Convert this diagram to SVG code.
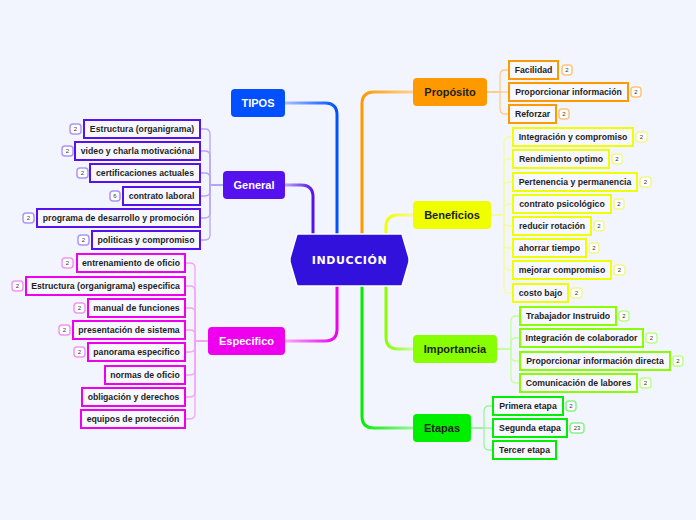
<svg xmlns="http://www.w3.org/2000/svg" width="696" height="520" viewBox="0 0 696 520">
<style>
text{font-family:"Liberation Sans",Arial,sans-serif;font-weight:bold}
.t{font-size:8.7px;fill:#1e1e1e;text-anchor:middle;dominant-baseline:central}
.m{font-size:11px;text-anchor:middle;dominant-baseline:central}
.w{fill:#ffffff}
.d{fill:#1e1e1e}
.b{fill:#ffffff;stroke-width:1.5}
.bt{font-size:6px;font-weight:normal;fill:#333;text-anchor:middle;dominant-baseline:central}
.n{fill:#f7f8fe;stroke-width:2}
.br{fill:none;stroke-width:1.3}
.mc{fill:none;stroke-width:3}
.purple .n{stroke:#5511ee}.purple .b{stroke:#ad96f7}.pb{stroke:#b7a3f7}
.mag .n{stroke:#ee00ee}.mag .b{stroke:#f396f3}.mb{stroke:#f5a3f5}
.ora .n{stroke:#ff9900}.ora .b{stroke:#ffc47a}.ob{stroke:#ffcc8a}
.yel .n{stroke:#f0ff00}.yel .b{stroke:#f2f78c}.yb{stroke:#f5f9a6}
.lim .n{stroke:#88ff00}.lim .b{stroke:#bcff8a}.lb{stroke:#c4ff9a}
.grn .n{stroke:#00ee00}.grn .b{stroke:#8af38a}.gb{stroke:#9af59a}
</style>
<defs>
<linearGradient id="gB" gradientUnits="userSpaceOnUse" x1="285" y1="0" x2="337" y2="0"><stop offset="0" stop-color="#a9c2ff"/><stop offset="1" stop-color="#0050ff"/></linearGradient>
<linearGradient id="gP" gradientUnits="userSpaceOnUse" x1="285" y1="0" x2="313" y2="0"><stop offset="0" stop-color="#b9a4f7"/><stop offset="1" stop-color="#5511ee"/></linearGradient>
<linearGradient id="gM" gradientUnits="userSpaceOnUse" x1="285" y1="0" x2="337" y2="0"><stop offset="0" stop-color="#f7a8f7"/><stop offset="1" stop-color="#ee00ee"/></linearGradient>
<linearGradient id="gO" gradientUnits="userSpaceOnUse" x1="413" y1="0" x2="362" y2="0"><stop offset="0" stop-color="#ffd29a"/><stop offset="1" stop-color="#ff9900"/></linearGradient>
<linearGradient id="gY" gradientUnits="userSpaceOnUse" x1="413" y1="0" x2="386" y2="0"><stop offset="0" stop-color="#f6fa90"/><stop offset="1" stop-color="#f0ff00"/></linearGradient>
<linearGradient id="gL" gradientUnits="userSpaceOnUse" x1="413" y1="0" x2="386" y2="0"><stop offset="0" stop-color="#c8ff9a"/><stop offset="1" stop-color="#88ff00"/></linearGradient>
<linearGradient id="gG" gradientUnits="userSpaceOnUse" x1="413" y1="0" x2="362" y2="0"><stop offset="0" stop-color="#9af59a"/><stop offset="1" stop-color="#00ee00"/></linearGradient>
</defs>
<rect width="696" height="520" fill="#f2f5fd"/>
<g id="connectors">
<path class="mc" stroke="url(#gB)" d="M285 103 H325 Q337 103 337 115 V234"/>
<path class="mc" stroke="url(#gP)" d="M285 185 H301 Q313 185 313 197 V234"/>
<path class="mc" stroke="url(#gM)" d="M285 341 H325 Q337 341 337 329 V286"/>
<path class="mc" stroke="url(#gO)" d="M413 92 H374 Q362 92 362 104 V234"/>
<path class="mc" stroke="url(#gY)" d="M413 215 H398 Q386 215 386 227 V234"/>
<path class="mc" stroke="url(#gL)" d="M413 349 H398 Q386 349 386 337 V286"/>
<path class="mc" stroke="url(#gG)" d="M413 428 H374 Q362 428 362 416 V286"/>
<g class="br ob">
<path d="M487 92 H500 V75 Q500 70 505 70 H509"/>
<path d="M487 92 H509"/>
<path d="M487 92 H500 V109 Q500 114 505 114 H509"/>
</g>
<g class="br yb">
<path d="M491 215 H504 V142 Q504 137 509 137 H513"/>
<path d="M491 215 H504 V164 Q504 159 509 159 H513"/>
<path d="M491 215 H504 V187 Q504 182 509 182 H513"/>
<path d="M491 215 H504 V209 Q504 204 509 204 H513"/>
<path d="M491 215 H504 V221 Q504 226 509 226 H513"/>
<path d="M491 215 H504 V243 Q504 248 509 248 H513"/>
<path d="M491 215 H504 V265 Q504 270 509 270 H513"/>
<path d="M491 215 H504 V288 Q504 293 509 293 H513"/>
</g>
<g class="br lb">
<path d="M497 349 H511 V321 Q511 316 516 316 H520"/>
<path d="M497 349 H511 V343 Q511 338 516 338 H520"/>
<path d="M497 349 H511 V356 Q511 361 516 361 H520"/>
<path d="M497 349 H511 V378 Q511 383 516 383 H520"/>
</g>
<g class="br gb">
<path d="M471 428 H484 V411 Q484 406 489 406 H493"/>
<path d="M471 428 H493"/>
<path d="M471 428 H484 V445 Q484 450 489 450 H493"/>
</g>
<g class="br pb">
<path d="M223 185 H210 V134 Q210 129 205 129 H200"/>
<path d="M223 185 H210 V156 Q210 151 205 151 H200"/>
<path d="M223 185 H210 V178 Q210 173 205 173 H200"/>
<path d="M223 185 H210 V191 Q210 196 205 196 H200"/>
<path d="M223 185 H210 V213 Q210 218 205 218 H200"/>
<path d="M223 185 H210 V235 Q210 240 205 240 H200"/>
</g>
<g class="br mb">
<path d="M208 341 H195 V268 Q195 263 190 263 H185"/>
<path d="M208 341 H195 V291 Q195 286 190 286 H185"/>
<path d="M208 341 H195 V313 Q195 308 190 308 H185"/>
<path d="M208 341 H195 V335 Q195 330 190 330 H185"/>
<path d="M208 341 H195 V347 Q195 352 190 352 H185"/>
<path d="M208 341 H195 V370 Q195 375 190 375 H185"/>
<path d="M208 341 H195 V392 Q195 397 190 397 H185"/>
<path d="M208 341 H195 V414 Q195 419 190 419 H185"/>
</g>
</g>
<g id="induccion">
<polygon points="297,234 402,234 409,258 409,262 402,286 297,286 290,262 290,258" fill="#3311dd" stroke="#ffffff" stroke-width="1.5"/>
<text x="349.5" y="260" style="font-family:'DejaVu Sans',sans-serif;font-size:11px;letter-spacing:0.6px;fill:#fff;text-anchor:middle;dominant-baseline:central">INDUCCIÓN</text>
</g>
<g id="tipos"><rect x="231" y="89" width="54" height="28" rx="4" fill="#0050ff"/><text class="m w" x="258" y="103">TIPOS</text></g>
<g id="general"><rect x="223" y="171" width="62" height="28" rx="4" fill="#5511ee"/><text class="m w" x="254" y="185">General</text></g>
<g id="especifico"><rect x="208" y="327" width="77" height="28" rx="4" fill="#ee00ee"/><text class="m w" x="246.5" y="341">Especifico</text></g>
<g id="proposito"><rect x="413" y="78" width="74" height="28" rx="4" fill="#ff9900"/><text class="m d" x="450" y="92">Propósito</text></g>
<g id="beneficios"><rect x="413" y="201" width="78" height="28" rx="4" fill="#f0ff00"/><text class="m d" x="452" y="215">Beneficios</text></g>
<g id="importancia"><rect x="413" y="335" width="84" height="28" rx="4" fill="#88ff00"/><text class="m d" x="455" y="349">Importancia</text></g>
<g id="etapas"><rect x="413" y="414" width="58" height="28" rx="4" fill="#00ee00"/><text class="m d" x="442" y="428">Etapas</text></g>
<g class="ora">
<g id="facilidad"><rect class="n" x="509" y="61" width="49" height="18"/><text class="t" x="533.5" y="70">Facilidad</text><rect class="b" x="562" y="65" width="10" height="10" rx="3"/><text class="bt" x="567" y="70">2</text></g>
<g id="proporcionar-informacion"><rect class="n" x="509" y="83" width="119" height="18"/><text class="t" x="568.5" y="92">Proporcionar información</text><rect class="b" x="631" y="87" width="10" height="10" rx="3"/><text class="bt" x="636" y="92">2</text></g>
<g id="reforzar"><rect class="n" x="509" y="105" width="47" height="18"/><text class="t" x="532.5" y="114">Reforzar</text><rect class="b" x="559" y="109" width="10" height="10" rx="3"/><text class="bt" x="564" y="114">2</text></g>
</g>
<g class="yel">
<g id="integracion-compromiso"><rect class="n" x="513" y="128" width="120" height="18"/><text class="t" x="573" y="137">Integración y compromiso</text><rect class="b" x="636" y="132" width="11" height="10" rx="3"/><text class="bt" x="641.5" y="137">2</text></g>
<g id="rendimiento"><rect class="n" x="513" y="150" width="96" height="18"/><text class="t" x="561" y="159">Rendimiento optimo</text><rect class="b" x="612" y="154" width="10" height="10" rx="3"/><text class="bt" x="617" y="159">2</text></g>
<g id="pertenencia"><rect class="n" x="513" y="173" width="124" height="18"/><text class="t" x="575" y="182">Pertenencia y permanencia</text><rect class="b" x="640" y="177" width="11" height="10" rx="3"/><text class="bt" x="645.5" y="182">2</text></g>
<g id="contrato-psicologico"><rect class="n" x="513" y="195" width="98" height="18"/><text class="t" x="562" y="204">contrato psicológico</text><rect class="b" x="614" y="199" width="10" height="10" rx="3"/><text class="bt" x="619" y="204">2</text></g>
<g id="reducir-rotacion"><rect class="n" x="513" y="217" width="78" height="18"/><text class="t" x="552" y="226">reducir rotación</text><rect class="b" x="594" y="221" width="10" height="10" rx="3"/><text class="bt" x="599" y="226">2</text></g>
<g id="ahorrar-tiempo"><rect class="n" x="513" y="239" width="73" height="18"/><text class="t" x="549.5" y="248">ahorrar tiempo</text><rect class="b" x="589" y="243" width="10" height="10" rx="3"/><text class="bt" x="594" y="248">2</text></g>
<g id="mejorar-compromiso"><rect class="n" x="513" y="261" width="98" height="18"/><text class="t" x="562" y="270">mejorar compromiso</text><rect class="b" x="614" y="265" width="11" height="10" rx="3"/><text class="bt" x="619.5" y="270">2</text></g>
<g id="costo-bajo"><rect class="n" x="513" y="284" width="55" height="18"/><text class="t" x="540.5" y="293">costo bajo</text><rect class="b" x="571" y="288" width="11" height="10" rx="3"/><text class="bt" x="576.5" y="293">2</text></g>
</g>
<g class="lim">
<g id="trabajador"><rect class="n" x="520" y="307" width="96" height="18"/><text class="t" x="568" y="316">Trabajador Instruido</text><rect class="b" x="619" y="311" width="10" height="10" rx="3"/><text class="bt" x="624" y="316">2</text></g>
<g id="integracion-colaborador"><rect class="n" x="520" y="329" width="123" height="18"/><text class="t" x="581.5" y="338">Integración de colaborador</text><rect class="b" x="646" y="333" width="11" height="10" rx="3"/><text class="bt" x="651.5" y="338">2</text></g>
<g id="info-directa"><rect class="n" x="520" y="352" width="150" height="18"/><text class="t" x="595" y="361">Proporcionar información directa</text><rect class="b" x="673" y="356" width="10" height="10" rx="3"/><text class="bt" x="678" y="361">2</text></g>
<g id="comunicacion"><rect class="n" x="520" y="374" width="117" height="18"/><text class="t" x="578.5" y="383">Comunicación de labores</text><rect class="b" x="640" y="378" width="11" height="10" rx="3"/><text class="bt" x="645.5" y="383">2</text></g>
</g>
<g class="grn">
<g id="primera"><rect class="n" x="493" y="397" width="70" height="18"/><text class="t" x="528" y="406">Primera etapa</text><rect class="b" x="566" y="401" width="10" height="10" rx="3"/><text class="bt" x="571" y="406">2</text></g>
<g id="segunda"><rect class="n" x="493" y="419" width="74" height="18"/><text class="t" x="530" y="428">Segunda etapa</text><rect class="b" x="570" y="423" width="14" height="10" rx="3"/><text class="bt" x="577" y="428">23</text></g>
<g id="tercer"><rect class="n" x="493" y="441" width="63" height="18"/><text class="t" x="524.5" y="450">Tercer etapa</text></g>
</g>
<g class="purple">
<g id="estructura"><rect class="n" x="84" y="120" width="116" height="18"/><text class="t" x="142" y="129">Estructura (organigrama)</text><rect class="b" x="70" y="124" width="11" height="10" rx="3"/><text class="bt" x="75.5" y="129">2</text></g>
<g id="video"><rect class="n" x="75" y="142" width="125" height="18"/><text class="t" x="137.5" y="151">video y charla motivaciónal</text><rect class="b" x="62" y="146" width="11" height="10" rx="3"/><text class="bt" x="67.5" y="151">2</text></g>
<g id="certificaciones"><rect class="n" x="90" y="164" width="110" height="18"/><text class="t" x="145" y="173">certificaciones actuales</text><rect class="b" x="77" y="168" width="11" height="10" rx="3"/><text class="bt" x="82.5" y="173">2</text></g>
<g id="contrato-laboral"><rect class="n" x="123" y="187" width="77" height="18"/><text class="t" x="161.5" y="196">contrato laboral</text><rect class="b" x="110" y="191" width="10" height="10" rx="3"/><text class="bt" x="115" y="196">6</text></g>
<g id="programa"><rect class="n" x="37" y="209" width="163" height="18"/><text class="t" x="118.5" y="218">programa de desarrollo y promoción</text><rect class="b" x="23" y="213" width="11" height="10" rx="3"/><text class="bt" x="28.5" y="218">2</text></g>
<g id="politicas"><rect class="n" x="92" y="231" width="108" height="18"/><text class="t" x="146" y="240">politicas y compromiso</text><rect class="b" x="78" y="235" width="11" height="10" rx="3"/><text class="bt" x="83.5" y="240">2</text></g>
</g>
<g class="mag">
<g id="entrenamiento"><rect class="n" x="77" y="254" width="108" height="18"/><text class="t" x="131" y="263">entrenamiento de oficio</text><rect class="b" x="62" y="258" width="11" height="10" rx="3"/><text class="bt" x="67.5" y="263">2</text></g>
<g id="estructura-especifica"><rect class="n" x="26" y="277" width="159" height="18"/><text class="t" x="105.5" y="286">Estructura (organigrama) especifica</text><rect class="b" x="12" y="281" width="11" height="10" rx="3"/><text class="bt" x="17.5" y="286">2</text></g>
<g id="manual"><rect class="n" x="88" y="299" width="97" height="18"/><text class="t" x="136.5" y="308">manual de funciones</text><rect class="b" x="74" y="303" width="11" height="10" rx="3"/><text class="bt" x="79.5" y="308">2</text></g>
<g id="presentacion"><rect class="n" x="73" y="321" width="112" height="18"/><text class="t" x="129" y="330">presentación de sistema</text><rect class="b" x="59" y="325" width="11" height="10" rx="3"/><text class="bt" x="64.5" y="330">2</text></g>
<g id="panorama"><rect class="n" x="88" y="343" width="97" height="18"/><text class="t" x="136.5" y="352">panorama especifico</text><rect class="b" x="74" y="347" width="11" height="10" rx="3"/><text class="bt" x="79.5" y="352">2</text></g>
<g id="normas"><rect class="n" x="105" y="366" width="80" height="18"/><text class="t" x="145" y="375">normas de oficio</text></g>
<g id="obligacion"><rect class="n" x="82" y="388" width="103" height="18"/><text class="t" x="133.5" y="397">obligación y derechos</text></g>
<g id="equipos"><rect class="n" x="81" y="410" width="104" height="18"/><text class="t" x="133" y="419">equipos de protección</text></g>
</g>
</svg>
